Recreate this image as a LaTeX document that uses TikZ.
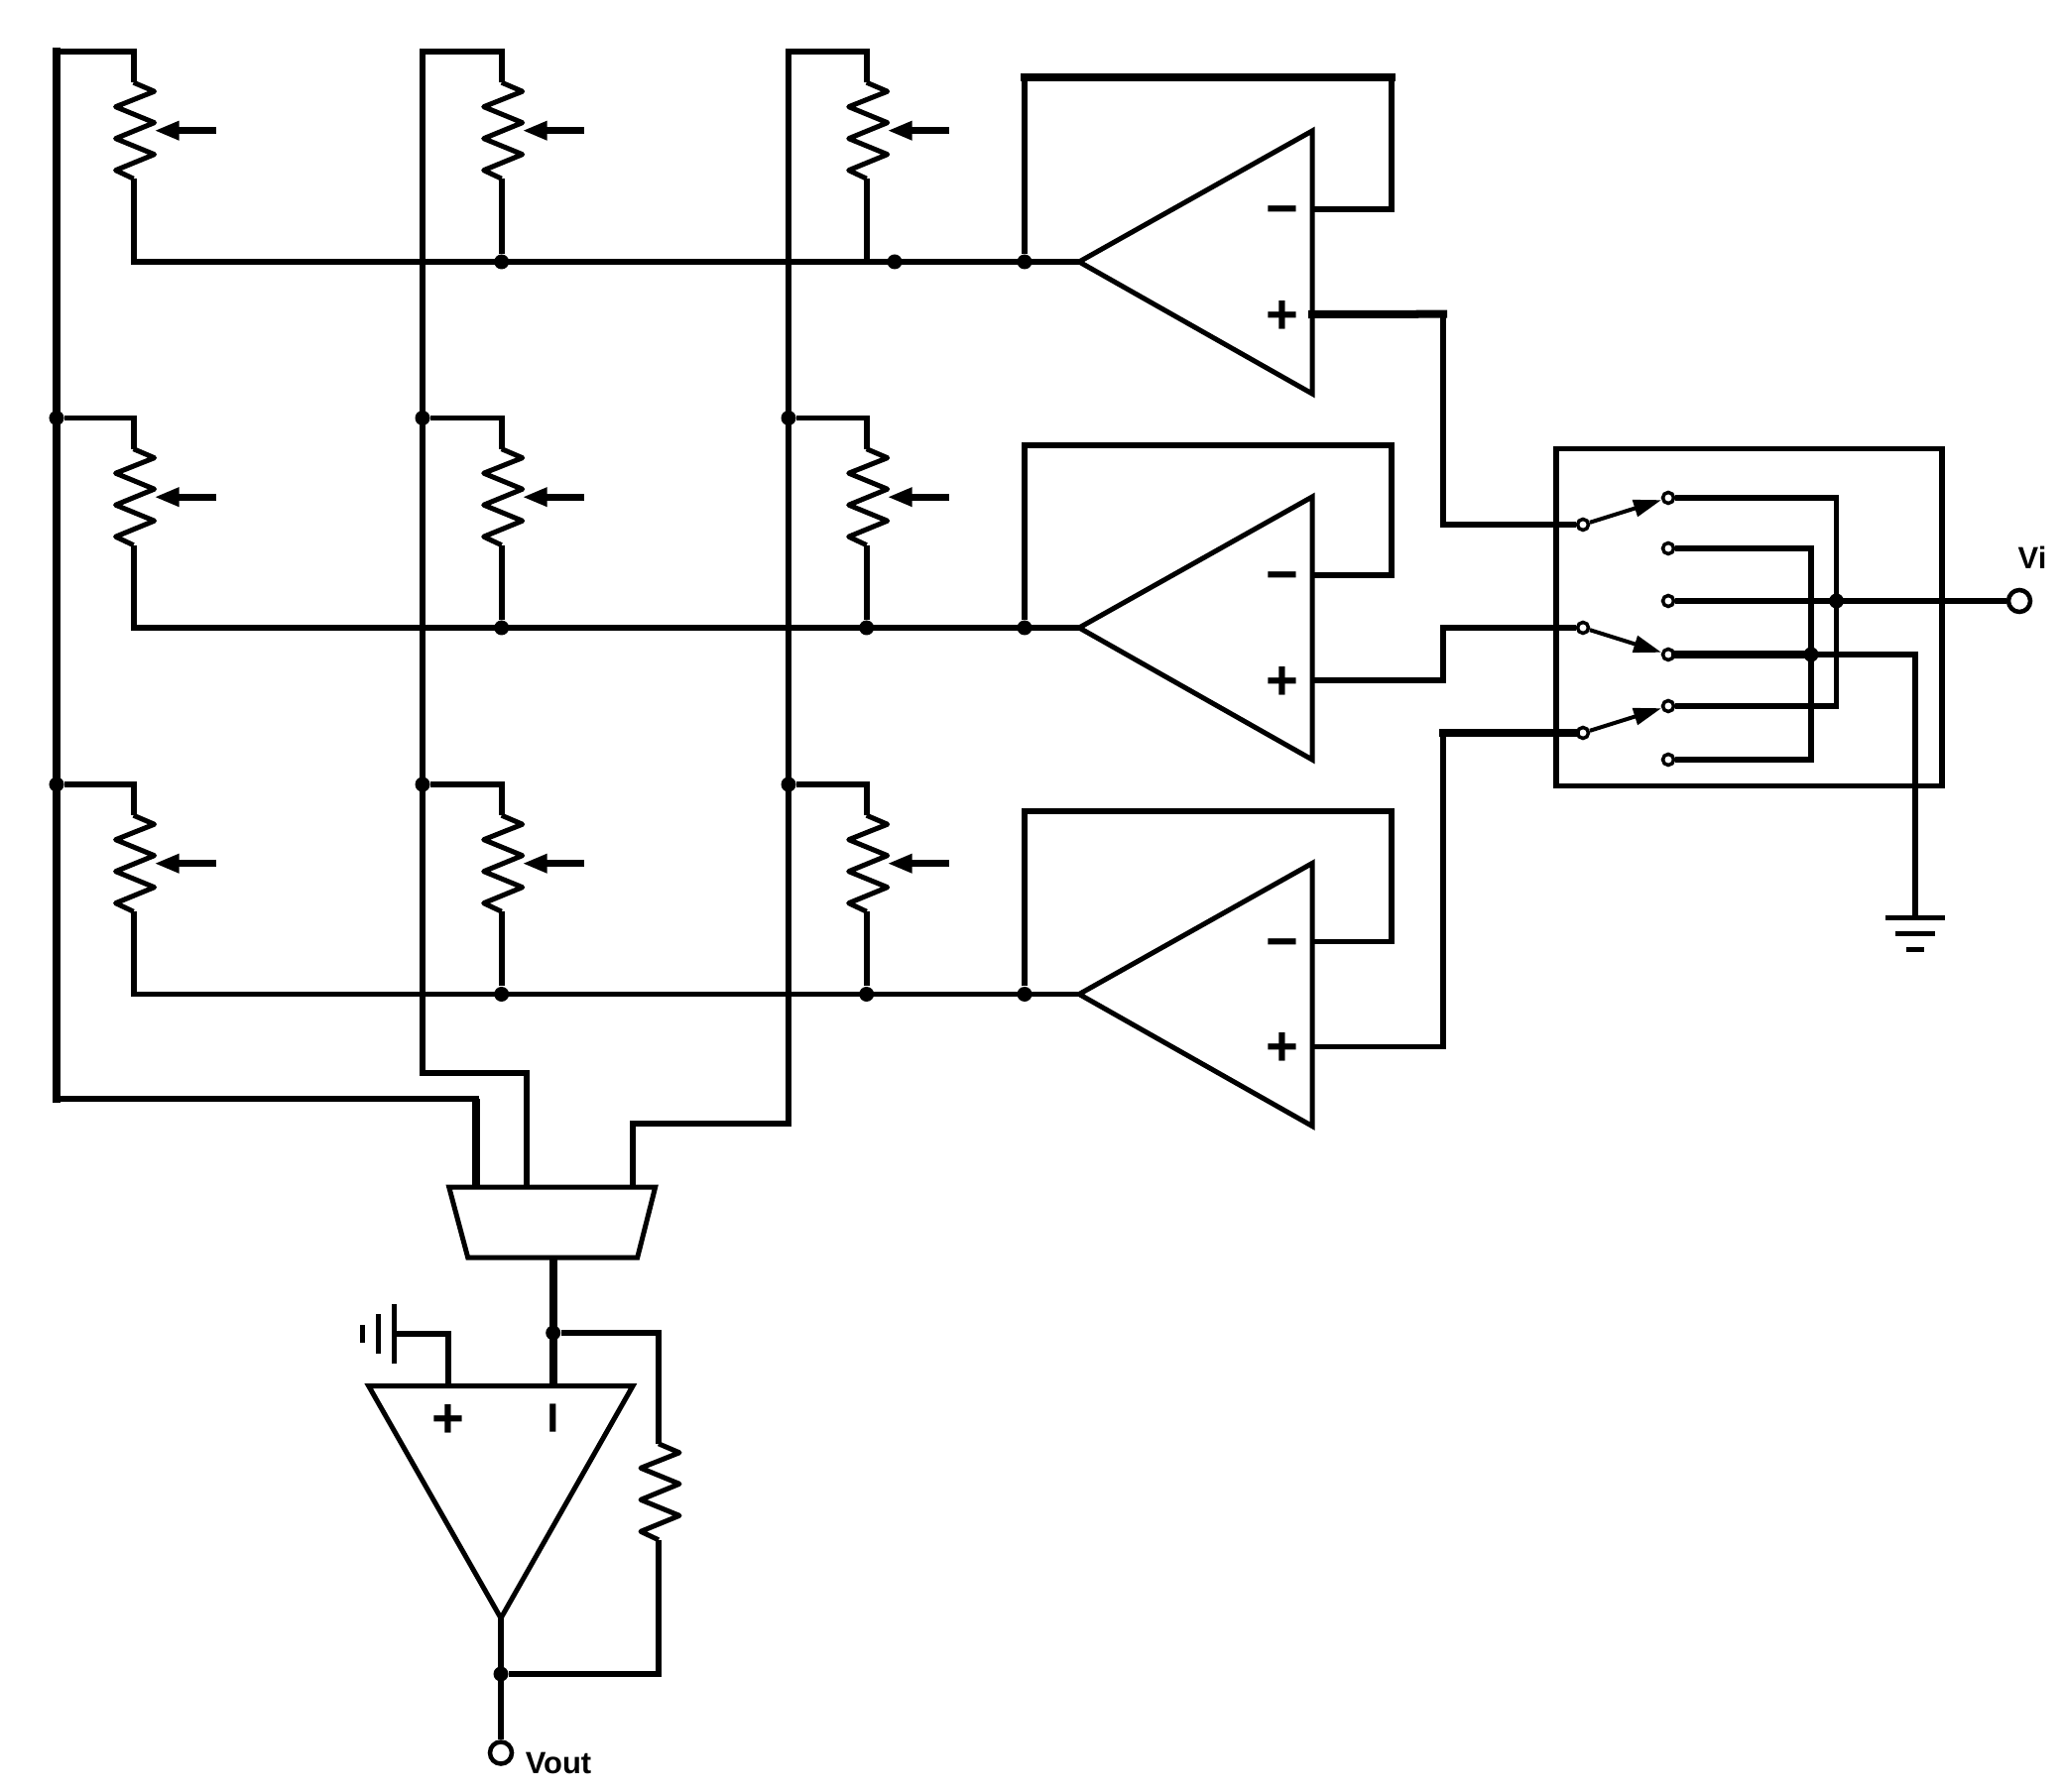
\documentclass[tikz,border=0pt]{standalone}
\usepackage{fontspec}
\setmainfont{Liberation Sans}
\usetikzlibrary{arrows.meta}
\newcommand{\zigpath}{(0,-48.5) coordinate (-top) -- (21,-39.5) -- (-18,-24) -- (21,-8) -- (-18,8) -- (21,24) -- (-18,40) -- (0,48.5) coordinate (-bot)}
\tikzset{
  wire/.style={line width=0.058cm,line join=miter},
  buswire/.style={line width=0.08cm,line join=miter,line cap=rect},
  zig/.style={line width=0.05cm,line join=round},
  dot/.style={circle,fill=black,inner sep=0,minimum size=0.15cm},
  term/.style={circle,draw,fill=white,inner sep=0,line width=0.035cm,minimum size=0.11cm},
  port/.style={circle,draw,fill=white,inner sep=0,line width=0.045cm,minimum size=0.22cm},
  sign/.style={font=\bfseries\fontsize{16}{16}\selectfont,inner sep=0},
  lbl/.style={font=\bfseries\fontsize{8.8}{10}\selectfont,inner sep=0},
  pics/pot/.style={code={
    \draw[zig] \zigpath;
    \draw[line width=0.07cm,{Triangle[length=0.25cm,width=0.18cm]}-] (21,0) -- (83,0);
  }},
  pics/res/.style={code={
    \draw[zig] \zigpath;
  }},
  pics/amp/.style={code={
    \draw[line width=0.05cm,line join=miter] (0,0) coordinate (-tip) -- (235,-132) -- (235,133) -- cycle;
    \coordinate (-minus) at (235,-53);
    \coordinate (-plus) at (235,53);
    \node[sign] (-m) at (205,-45) {−};
    \node[sign] (-p) at (205,56) {+};
  }},
  pics/gnd/.style={code={
    \coordinate (-in) at (0,0);
    \draw[line width=0.05cm] (-30,0) -- (30,0) (-20,16) -- (20,16) (-9,32) -- (9,32);
  }}
}
\begin{document}
\begin{tikzpicture}[x=0.01cm,y=-0.01cm]
  \useasboundingbox (0,0) rectangle (2082,1807);
  % potentiometers, row then column
  \path
    (134.6,131.7) pic (p11) {pot}
    (505.7,131.7) pic (p12) {pot}
    (873.7,131.7) pic (p13) {pot}
    (134.6,501.2) pic (p21) {pot}
    (505.7,501.2) pic (p22) {pot}
    (873.7,501.2) pic (p23) {pot}
    (134.6,870.7) pic (p31) {pot}
    (505.7,870.7) pic (p32) {pot}
    (873.7,870.7) pic (p33) {pot};
  % amplifiers
  \path
    (1088,264) pic (a1) {amp}
    (1088,633) pic (a2) {amp}
    (1088,1002.5) pic (a3) {amp};
  % junctions
  \draw
    (57,421.5) node[dot] (j21){}
    (57,791) node[dot] (j31){}
    (426,421.5) node[dot] (j22){}
    (426,791) node[dot] (j32){}
    (795,421.5) node[dot] (j23){}
    (795,791) node[dot] (j33){}
    (505.7,264) node[dot] (r12){}
    (902,264) node[dot] (r13){}
    (1033,264) node[dot] (f1){}
    (505.7,633) node[dot] (r22){}
    (873.7,633) node[dot] (r23){}
    (1033,633) node[dot] (f2){}
    (505.7,1002.5) node[dot] (r32){}
    (873.7,1002.5) node[dot] (r33){}
    (1033,1002.5) node[dot] (f3){};
  % corners
  \coordinate (c1) at (57,52);
  \coordinate (c2) at (426,52);
  \coordinate (c3) at (795,52);
  \coordinate (b1) at (57,1108);
  \coordinate (b2) at (426,1082);
  \coordinate (b3) at (795,1133);
  \coordinate (u0) at (1033,78);
  \coordinate (u1) at (1403,78);
  \coordinate (u2) at (1403,449);
  \coordinate (u3) at (1403,818);
  \coordinate (k0) at (1455,316.7);
  \coordinate (k1) at (1455,529);
  \coordinate (k2) at (1455,633);
  \coordinate (k3) at (1455,739);
  % switch box
  \node[draw,line width=0.055cm,minimum width=3.89cm,minimum height=3.4cm,inner sep=0] (box) at (1763.5,622.5) {};
  \draw
    (1596,529) node[term] (s1){}
    (1596,633) node[term] (s2){}
    (1596,739) node[term] (s3){}
    (1682,502) node[term] (t1){}
    (1682,553) node[term] (t2){}
    (1682,606) node[term] (t3){}
    (1682,660) node[term] (t4){}
    (1682,712) node[term] (t5){}
    (1682,766) node[term] (t6){}
    (1851.5,606) node[dot] (j36){}
    (1826,660) node[dot] (j46){}
    (2036,606) node[port] (vi){}
    (2049,562) node[lbl] (vilabel){Vi};
  \coordinate (w1) at (1851.5,502);
  \coordinate (w2) at (1826,553);
  \coordinate (w3) at (1930.6,660);
  \path (1930.6,925.7) pic (g1) {gnd};
  % multiplexer
  \coordinate (mi1) at (480,1197);
  \coordinate (mi2) at (530.7,1197);
  \coordinate (mi3) at (638,1197);
  \coordinate (mo) at (557.7,1268);
  \draw[line width=0.05cm,line join=miter] (452.7,1197) -- (660.7,1197) -- (642.7,1268) -- (471.7,1268) -- cycle;
  % output amplifier
  \draw[line width=0.05cm,line join=miter] (371.7,1397.6) coordinate (ol) -- (638,1397.6) coordinate (or) -- (505,1631.7) coordinate (ot) -- cycle;
  \coordinate (op) at (452,1397.6);
  \coordinate (om) at (557.7,1397.6);
  \node[sign] (oplus) at (452,1433) {+};
  \node[sign,rotate=90] (ominus) at (566,1430) {−};
  \draw
    (557.7,1344) node[dot] (j7){}
    (505,1688) node[dot] (j8){}
    (505,1767.5) node[port] (vout){}
    (563,1777.5) node[lbl] (voutlabel){Vout};
  \coordinate (h1) at (664,1344);
  \coordinate (h2) at (664,1688);
  \path (664,1504.3) pic (rf) {res};
  \path (397,1345) pic[rotate=-90] (g2) {gnd};
  \begin{scope}[wire]
    % columns
    \draw (p11-top) |- (c1);
    \draw[buswire] (c1) -- (b1);
    \draw (b1) -| (mi1);
    \draw[buswire] (480,1112) -- (480,1195);
    \draw (p12-top) |- (c2) -- (b2) -| (mi2);
    \draw (p13-top) |- (c3) -- (b3) -| (mi3);
    \draw (j21) -| (p21-top);
    \draw (j31) -| (p31-top);
    \draw (j22) -| (p22-top);
    \draw (j32) -| (p32-top);
    \draw (j23) -| (p23-top);
    \draw (j33) -| (p33-top);
    % rows
    \draw (p11-bot) |- (a1-tip);
    \draw (p21-bot) |- (a2-tip);
    \draw (p31-bot) |- (a3-tip);
    \draw (p12-bot) -- (r12);
    \draw (p22-bot) -- (r22);
    \draw (p32-bot) -- (r32);
    \draw (p13-bot) -- (873.7,264);
    \draw (p23-bot) -- (r23);
    \draw (p33-bot) -- (r33);
    % feedback
    \draw (f1) |- (u1) |- (a1-minus);
    \draw[buswire] (u0) -- (u1);
    \draw (f2) |- (u2) |- (a2-minus);
    \draw (f3) |- (u3) |- (a3-minus);
    % inputs to switch
    \draw (a1-plus) -| (k1) -- (s1);
    \draw[buswire] (a1-plus) -- (k0);
    \draw (a2-plus) -| (k2) -- (s2);
    \draw (a3-plus) -| (k3) -- (s3);
    \draw[buswire] (k3) -- (s3);
    \draw[line width=0.04cm,-{Triangle[length=0.28cm,width=0.17cm]}] (s1) -- (t1);
    \draw[line width=0.04cm,-{Triangle[length=0.28cm,width=0.17cm]}] (s2) -- (t4);
    \draw[line width=0.04cm,-{Triangle[length=0.28cm,width=0.17cm]}] (s3) -- (t5);
    % switch outputs
    \draw (t1) -- (w1) |- (t5);
    \draw (t2) -- (w2) |- (t6);
    \draw (t3) -- (vi);
    \draw (t4) -- (w3) -- (g1-in);
    \draw[buswire] (t4) -- (j46);
    % output stage
    \draw[line width=0.08cm] (mo) -- (om);
    \draw (j7) -| (rf-top);
    \draw (rf-bot) |- (j8);
    \draw (ot) -- (vout);
    \draw (op) |- (g2-in);
  \end{scope}
\end{tikzpicture}
\end{document}
